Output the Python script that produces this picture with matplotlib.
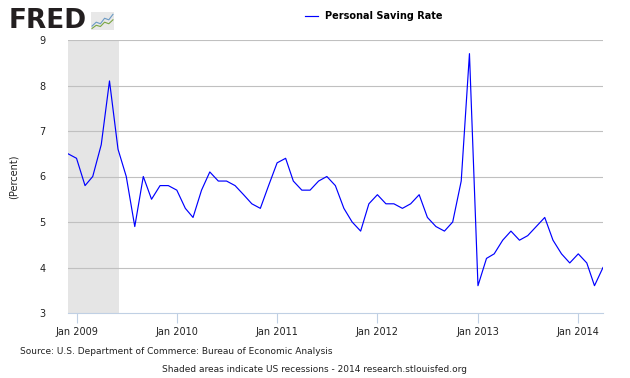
import numpy as np
import pandas as pd
import matplotlib
matplotlib.use('Agg')
import matplotlib.pyplot as plt

# Personal saving rate, monthly, Dec 2008 - Apr 2014
start_month = '2008-12-01'
saving_rate = [6.5,
               6.4, 5.8, 6.0, 6.7, 8.1, 6.6, 6.0, 4.9, 6.0, 5.5, 5.8, 5.8,
               5.7, 5.3, 5.1, 5.7, 6.1, 5.9, 5.9, 5.8, 5.6, 5.4, 5.3, 5.8,
               6.3, 6.4, 5.9, 5.7, 5.7, 5.9, 6.0, 5.8, 5.3, 5.0, 4.8, 5.4,
               5.6, 5.4, 5.4, 5.3, 5.4, 5.6, 5.1, 4.9, 4.8, 5.0, 5.9, 8.7,
               3.6, 4.2, 4.3, 4.6, 4.8, 4.6, 4.7, 4.9, 5.1, 4.6, 4.3, 4.1,
               4.3, 4.1, 3.6, 4.0]
recession = ('2008-12-01', '2009-06-05')
y_ticks = [3, 4, 5, 6, 7, 8, 9]
x_tick_years = [2009, 2010, 2011, 2012, 2013, 2014]

# little logo sparkline
logo_blue = [1, 2, 1.6, 3, 2.6, 4]
logo_green = [0.4, 1.2, 0.9, 2, 1.6, 2.6]

dates = pd.date_range(start_month, periods=len(saving_rate), freq='MS')

fig = plt.figure(figsize=(6.3, 3.78), dpi=100)
W, H = 630, 378
ax = fig.add_axes([68 / W, 1 - 313 / H, (603 - 68) / W, (313 - 40) / H])

ax.axvspan(pd.Timestamp(recession[0]), pd.Timestamp(recession[1]), color='#e5e5e5', lw=0, zorder=0)
for y in y_ticks[1:]:
    ax.axhline(y, color='#c0c0c0', lw=0.8, zorder=1)
ax.plot(dates, saving_rate, color='#0000ff', lw=0.85, zorder=3)

ax.set_xlim(dates[0], dates[-1])
ax.set_ylim(3, 9)
ax.set_yticks(y_ticks)
ax.set_yticklabels([str(v) for v in y_ticks], fontsize=7)
ticks = [pd.Timestamp(f'{yr}-01-01') for yr in x_tick_years]
ax.set_xticks(ticks)
ax.set_xticklabels([f'Jan {yr}' for yr in x_tick_years], fontsize=7, color='#222222')
ax.tick_params(axis='y', length=0, pad=16, colors='#222222')
ax.tick_params(axis='x', length=7, width=0.8, color='#c0d0e4', pad=3)
for s in ['top', 'left', 'right']:
    ax.spines[s].set_visible(False)
ax.spines['bottom'].set_color('#c0d0e4')
ax.spines['bottom'].set_linewidth(0.8)
ax.set_ylabel('(Percent)', fontsize=7, labelpad=15, color='#222222')

# legend
fig.lines.append(plt.Line2D([305 / W, 318 / W], [1 - 16 / H, 1 - 16 / H], color='#0000ff', lw=0.85, transform=fig.transFigure))
fig.text(325 / W, 1 - 16 / H, 'Personal Saving Rate', fontsize=7, fontweight='bold', va='center', ha='left')

# FRED logo
fig.text(9 / W, 1 - 21 / H, 'FRED', fontsize=19, fontweight='heavy', va='center', ha='left', color='#231f20')
lax = fig.add_axes([91 / W, 1 - 30 / H, 23 / W, 18 / H])
lax.set_facecolor('#e8e8e8')
lax.plot(logo_blue, color='#6c9bc4', lw=0.8)
lax.plot(logo_green, color='#7aa642', lw=0.8)
lax.set_xticks([])
lax.set_yticks([])
for s in lax.spines.values():
    s.set_visible(False)
lax.set_ylim(0, 4.6)

fig.text(20 / W, 1 - 351 / H, 'Source: U.S. Department of Commerce: Bureau of Economic Analysis', fontsize=6.5, va='center', ha='left', color='#222222')
fig.text(315 / W, 1 - 370 / H, 'Shaded areas indicate US recessions - 2014 research.stlouisfed.org', fontsize=6.5, va='center', ha='center', color='#222222')

fig.savefig('out.png', dpi=100)
